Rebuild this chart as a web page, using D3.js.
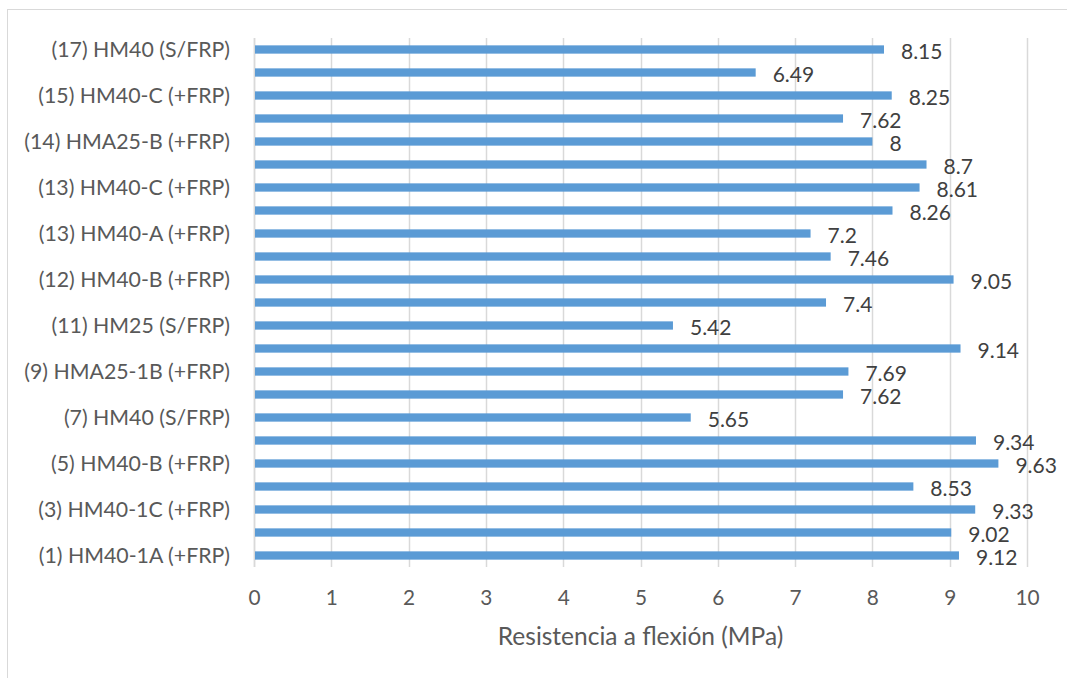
<!DOCTYPE html>
<html>
<head>
<meta charset="utf-8">
<script src="https://cdn.jsdelivr.net/npm/d3@7"></script>
<style>
  html, body { margin: 0; padding: 0; background: #fff; }
  svg { display: block; }
  text { font-family: Lato, "Open Sans", sans-serif; fill: #595959; }
</style>
</head>
<body>
<svg id="chart" width="1067" height="678"></svg>
<script>
// Categories listed bottom to top (Excel order); only every other label is shown
const categories = [
  "(1) HM40-1A (+FRP)", "(2) HM40-1B (+FRP)", "(3) HM40-1C (+FRP)", "(4) HM40-A (+FRP)",
  "(5) HM40-B (+FRP)", "(6) HM40-C (+FRP)", "(7) HM40 (S/FRP)", "(8) HMA25-1A (+FRP)",
  "(9) HMA25-1B (+FRP)", "(10) HMA25-1C (+FRP)", "(11) HM25 (S/FRP)", "(12) HM40-A (+FRP)",
  "(12) HM40-B (+FRP)", "(12) HM40-C (+FRP)", "(13) HM40-A (+FRP)", "(13) HM40-B (+FRP)",
  "(13) HM40-C (+FRP)", "(14) HMA25-A (+FRP)", "(14) HMA25-B (+FRP)", "(14) HMA25-C (+FRP)",
  "(15) HM40-C (+FRP)", "(16) HM40 (S/FRP)", "(17) HM40 (S/FRP)"
];
const values = [
  9.12, 9.02, 9.33, 8.53, 9.63, 9.34, 5.65, 7.62, 7.69, 9.14, 5.42, 7.4,
  9.05, 7.46, 7.2, 8.26, 8.61, 8.7, 8, 7.62, 8.25, 6.49, 8.15
];
const xTicks = [0, 1, 2, 3, 4, 5, 6, 7, 8, 9, 10];
const xTitle = "Resistencia a flexión (MPa)";

const svg = d3.select("#chart");
const W = 1067, H = 678;
const plot = { left: 254, right: 1027, top: 38, bottom: 567 };

// chart border
svg.append("rect")
  .attr("x", 7.5).attr("y", 9.5)
  .attr("width", W + 10).attr("height", H + 10)
  .attr("fill", "#fff").attr("stroke", "#d9d9d9").attr("stroke-width", 1);

const x = d3.scaleLinear().domain([0, 10]).range([plot.left, plot.right]);
const y = d3.scaleBand()
  .domain(categories.slice().reverse())
  .range([plot.top, plot.bottom])
  .paddingInner(0.64).paddingOuter(0.32);

// gridlines
svg.append("g").selectAll("line").data(xTicks).join("line")
  .attr("x1", d => Math.round(x(d)) + 0.5).attr("x2", d => Math.round(x(d)) + 0.5)
  .attr("y1", plot.top).attr("y2", plot.bottom)
  .attr("stroke", "#d9d9d9").attr("stroke-width", 1.5);

// x axis tick labels
const xAxis = d3.axisBottom(x).tickValues(xTicks).tickSize(0).tickPadding(0).tickFormat(d3.format("d"));
const gx = svg.append("g").attr("transform", `translate(0,${plot.bottom})`).call(xAxis);
gx.select(".domain").remove();
gx.selectAll("text")
  .attr("dy", null).attr("y", 38)
  .style("font-size", "20.8px").style("fill", "#595959")
  .style("font-family", "Lato, sans-serif");

// y axis labels (every other category)
const yAxis = d3.axisLeft(y).tickSize(0).tickPadding(0)
  .tickFormat(() => "");
const gy = svg.append("g").attr("transform", `translate(${plot.left},0)`).call(yAxis);
gy.select(".domain").remove();
gy.selectAll(".tick").each(function(d) {
  const idx = categories.indexOf(d);
  const t = d3.select(this).select("text");
  if (idx % 2 === 0) {
    t.text(d).attr("x", -24).attr("dy", "0.36em")
      .style("font-size", "21.3px").style("fill", "#595959")
      .style("font-family", "Lato, sans-serif");
  } else {
    t.remove();
  }
});

// y axis line at 0
svg.append("line")
  .attr("x1", Math.round(x(0)) + 0.5).attr("x2", Math.round(x(0)) + 0.5)
  .attr("y1", plot.top).attr("y2", plot.bottom)
  .attr("stroke", "#d9d9d9").attr("stroke-width", 1.5);

// bars
svg.append("g").selectAll("rect").data(categories).join("rect")
  .attr("x", x(0) + 1)
  .attr("y", d => y(d))
  .attr("width", (d, i) => x(values[i]) - x(0) - 1)
  .attr("height", y.bandwidth())
  .attr("fill", "#5b9bd5");

// value labels
svg.append("g").selectAll("text").data(categories).join("text")
  .attr("x", (d, i) => x(values[i]) + 17)
  .attr("y", d => y(d) + y.bandwidth() / 2 + 9)
  .style("font-size", "21px")
  .style("fill", "#404040")
  .text((d, i) => String(values[i]));

// axis title
svg.append("text")
  .attr("x", (plot.left + plot.right) / 2)
  .attr("y", 645)
  .attr("text-anchor", "middle")
  .style("font-size", "24.5px")
  .text(xTitle);
</script>
</body>
</html>
